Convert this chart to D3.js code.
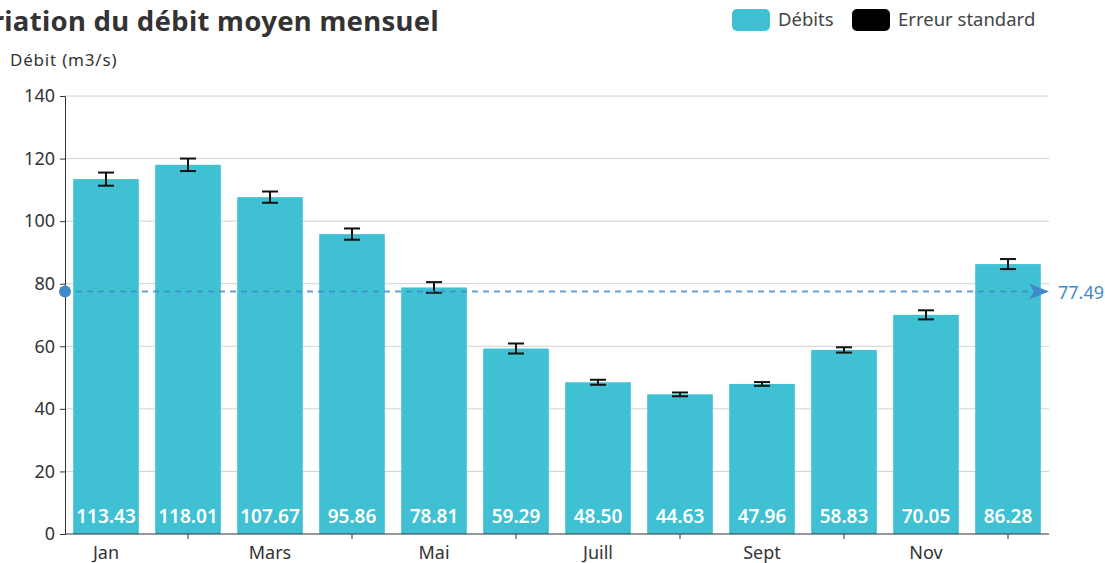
<!DOCTYPE html>
<html>
<head>
<meta charset="utf-8">
<script src="https://cdn.jsdelivr.net/npm/d3@7"></script>
<style>
  body { margin: 0; background: #fff; }
  text { font-family: "Noto Sans", "DejaVu Sans", sans-serif; }
</style>
</head>
<body>
<div id="chart"></div>
<script>
// data
const months = ["Jan", "Févr", "Mars", "Avr", "Mai", "Juin", "Juill", "Août", "Sept", "Oct", "Nov", "Déc"];
const debits = [113.43, 118.01, 107.67, 95.86, 78.81, 59.29, 48.50, 44.63, 47.96, 58.83, 70.05, 86.28];
const erreurs = [2.1, 2.0, 1.8, 1.8, 1.7, 1.6, 0.8, 0.6, 0.6, 0.85, 1.45, 1.6];
const moyenne = 77.49;
const yTicks = [0, 20, 40, 60, 80, 100, 120, 140];

const W = 1105, H = 563;
const margin = { top: 96, right: 56, bottom: 29, left: 65 };
const width = W - margin.left - margin.right;
const height = H - margin.top - margin.bottom;

const barColor = "#3fc1d3";
const meanColor = "#3f8ac9";

const svg = d3.select("#chart").append("svg")
    .attr("width", W)
    .attr("height", H);

// title (cut on the left like the original)
svg.append("text")
    .attr("x", 439)
    .attr("y", 31)
    .attr("text-anchor", "end")
    .attr("font-size", 27.5)
    .attr("letter-spacing", 0.3)
    .attr("font-weight", "bold")
    .attr("fill", "#333")
    .text("Variation du débit moyen mensuel");

// legend
const legend = [
    { name: "Débits", color: barColor, x: 732 },
    { name: "Erreur standard", color: "#000", x: 852 }
];
const lg = svg.append("g").selectAll("g").data(legend).join("g")
    .attr("transform", d => `translate(${d.x},9)`);
lg.append("rect")
    .attr("width", 38).attr("height", 22).attr("rx", 5)
    .attr("fill", d => d.color);
lg.append("text")
    .attr("x", 46).attr("y", 17)
    .attr("font-size", 18.5)
    .attr("fill", "#444")
    .text(d => d.name);

const g = svg.append("g")
    .attr("transform", `translate(${margin.left},${margin.top})`);

const x = d3.scaleBand().domain(months).range([0, width]).paddingInner(0.2).paddingOuter(0.1);
const y = d3.scaleLinear().domain([0, 140]).range([height, 0]);

// grid
g.append("g").selectAll("line").data(yTicks.slice(1)).join("line")
    .attr("x1", 0).attr("x2", width)
    .attr("y1", d => y(d)).attr("y2", d => y(d))
    .attr("stroke", "#d0d0d0");

// y axis
const yAxis = g.append("g")
    .call(d3.axisLeft(y).tickValues(yTicks).tickSize(5).tickPadding(5));
yAxis.select(".domain").attr("stroke", "#333");
yAxis.selectAll(".tick line").attr("stroke", "#333");
yAxis.selectAll(".tick text").attr("font-size", 18).attr("fill", "#333")
    .style("font-family", "Noto Sans, sans-serif");

g.append("text")
    .attr("x", -55).attr("y", -30)
    .attr("font-size", 17)
    .attr("letter-spacing", 0.8)
    .attr("fill", "#333")
    .text("Débit (m3/s)");

// bars
g.append("g").selectAll("rect").data(debits).join("rect")
    .attr("x", (d, i) => x(months[i]))
    .attr("width", x.bandwidth())
    .attr("y", d => y(d))
    .attr("height", d => height - y(d))
    .attr("fill", barColor);

// labels inside bars
g.append("g").selectAll("text").data(debits).join("text")
    .attr("x", (d, i) => x(months[i]) + x.bandwidth() / 2)
    .attr("y", height - 11)
    .attr("text-anchor", "middle")
    .attr("font-size", 19)
    .attr("font-weight", 600)
    .attr("fill", "#fff")
    .text(d => d.toFixed(2));

// x axis: labels every other month, ticks on the skipped ones
const xAxis = g.append("g").attr("transform", `translate(0,${height})`);
xAxis.append("line")
    .attr("x1", 0).attr("x2", width)
    .attr("stroke", "#333");
xAxis.selectAll(".tk").data(months.filter((m, i) => i % 2 === 1)).join("line")
    .attr("class", "tk")
    .attr("x1", d => x(d) + x.bandwidth() / 2)
    .attr("x2", d => x(d) + x.bandwidth() / 2)
    .attr("y1", 0).attr("y2", 5)
    .attr("stroke", "#333");
xAxis.selectAll(".lb").data(months.filter((m, i) => i % 2 === 0)).join("text")
    .attr("class", "lb")
    .attr("x", d => x(d) + x.bandwidth() / 2)
    .attr("y", 25)
    .attr("text-anchor", "middle")
    .attr("font-size", 18)
    .attr("fill", "#333")
    .text(d => d);

// error bars
const eb = g.append("g").attr("stroke", "#111").attr("stroke-width", 2);
debits.forEach((d, i) => {
    const cx = x(months[i]) + x.bandwidth() / 2;
    const y1 = y(d + erreurs[i]), y2 = y(d - erreurs[i]);
    eb.append("line").attr("x1", cx).attr("x2", cx).attr("y1", y1).attr("y2", y2);
    eb.append("line").attr("x1", cx - 8).attr("x2", cx + 8).attr("y1", y1).attr("y2", y1);
    eb.append("line").attr("x1", cx - 8).attr("x2", cx + 8).attr("y1", y2).attr("y2", y2);
});

// mean line
const my = y(moyenne);
g.append("line")
    .attr("x1", 0).attr("x2", width - 12)
    .attr("y1", my).attr("y2", my)
    .attr("stroke", meanColor)
    .attr("stroke-opacity", 0.8)
    .attr("stroke-width", 2)
    .attr("stroke-dasharray", "6,5");
g.append("circle")
    .attr("cx", 0).attr("cy", my).attr("r", 6)
    .attr("fill", meanColor);
g.append("path")
    .attr("d", `M${width - 20},${my - 8} L${width},${my} L${width - 20},${my + 8} L${width - 15},${my} Z`)
    .attr("fill", meanColor);
g.append("text")
    .attr("x", width + 9).attr("y", my + 7)
    .attr("font-size", 18)
    .attr("fill", meanColor)
    .text(moyenne.toFixed(2));
</script>
</body>
</html>
